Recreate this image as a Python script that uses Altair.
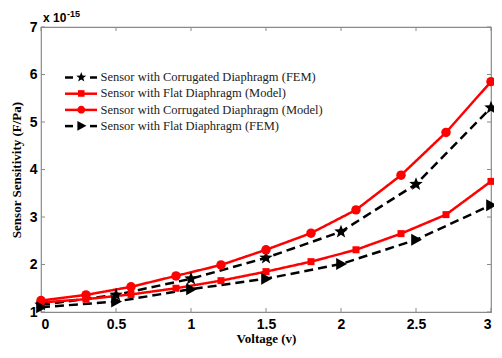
import math
import altair as alt
import pandas as pd

# ---------------- data ----------------
S1 = "Sensor with Corrugated Diaphragm (FEM)"
S2 = "Sensor with Flat Diaphragm (Model)"
S3 = "Sensor with Corrugated Diaphragm (Model)"
S4 = "Sensor with Flat Diaphragm (FEM)"
series_order = [S1, S2, S3, S4]

fem_x = [0, 0.5, 1, 1.5, 2, 2.5, 3]
corr_fem = [1.15, 1.36, 1.70, 2.14, 2.69, 3.69, 5.30]
flat_fem = [1.10, 1.22, 1.48, 1.70, 2.01, 2.52, 3.25]

model_x = [0, 0.3, 0.6, 0.9, 1.2, 1.5, 1.8, 2.1, 2.4, 2.7, 3.0]
corr_model = [1.24, 1.36, 1.53, 1.76, 1.99, 2.31, 2.66, 3.15, 3.88, 4.78, 5.85]
flat_model = [1.20, 1.27, 1.37, 1.50, 1.66, 1.85, 2.06, 2.31, 2.65, 3.05, 3.75]

x_ticks = [0, 0.5, 1, 1.5, 2, 2.5, 3]
y_ticks = [1, 2, 3, 4, 5, 6, 7]

rows = []
for s, xs_, ys_ in [(S1, fem_x, corr_fem), (S2, model_x, flat_model),
                    (S3, model_x, corr_model), (S4, fem_x, flat_fem)]:
    for xv, yv in zip(xs_, ys_):
        rows.append({"series": s, "v": xv, "s": yv})
df = pd.DataFrame(rows)

# ---------------- styling ----------------
W, H = 450, 285
RED = "#ff0000"
BLK = "#000000"
FRAME = "#8a8a8a"


def star_path(R=1.0, ri=0.42):
    pts = []
    for k in range(10):
        a = math.radians(-90 + 36 * k)
        r = R if k % 2 == 0 else ri
        pts.append(f"{r * math.cos(a):.3f},{r * math.sin(a):.3f}")
    return "M" + "L".join(pts) + "Z"


STAR = star_path()
TRI = "M-0.8,-1L1,0L-0.8,1Z"

xs = alt.Scale(domain=[0, 3], nice=False)
ys = alt.Scale(domain=[1, 7], nice=False)
X = alt.X("v:Q", scale=xs, title="Voltage (v)",
          axis=alt.Axis(values=x_ticks, format="~g", ticks=False, grid=False, domain=False,
                        labelFont="Liberation Sans", labelFontWeight="bold", labelFontSize=14,
                        labelColor=BLK, labelPadding=5,
                        titleFont="Liberation Serif", titleFontWeight="bold", titleFontSize=13,
                        titleColor=BLK, titleBaseline="alphabetic", titleY=30))
Y = alt.Y("s:Q", scale=ys, title="Sensor Sensitivity (F/Pa)",
          axis=alt.Axis(values=y_ticks, format="~g", ticks=False, grid=False, domain=False,
                        labelFont="Liberation Sans", labelFontWeight="bold", labelFontSize=14,
                        labelColor=BLK, labelPadding=4,
                        titleFont="Liberation Serif", titleFontWeight="bold", titleFontSize=13,
                        titleColor=BLK, titlePadding=6))

color_scale = alt.Scale(domain=series_order, range=[BLK, RED, RED, BLK])

lines = alt.Chart(df).mark_line(strokeWidth=2.5).encode(
    x=X, y=Y,
    color=alt.Color("series:N", scale=color_scale, legend=None),
    strokeDash=alt.StrokeDash("series:N", scale=alt.Scale(domain=series_order,
                              range=[[9, 5], [1, 0], [1, 0], [9, 5]]), legend=None),
)

# markers: one layer per series
marker_spec = {S1: (STAR, 200, BLK), S2: ("square", 49, RED), S3: ("circle", 90, RED), S4: (TRI, 144, BLK)}
point_layers = []
for s in series_order:
    shp, sz, col = marker_spec[s]
    point_layers.append(
        alt.Chart(df).transform_filter(alt.datum.series == s).mark_point(
            filled=True, shape=shp, size=sz, color=col, opacity=1
        ).encode(x=X, y=Y)
    )

# legend: one entry per legend (marker symbol), plus line swatches
LEG_STAR = star_path(0.95, 0.4)
LEG_SQ = "M-0.6,-0.6H0.6V0.6H-0.6Z"
LEG_CIR = "M-0.72,0A0.72,0.72,0,1,0,0.72,0A0.72,0.72,0,1,0,-0.72,0Z"
LEG_TRI = "M-0.7,-0.9L0.95,0L-0.7,0.9Z"
legend_spec = {S1: (LEG_STAR, BLK, True), S2: (LEG_SQ, RED, False),
               S3: (LEG_CIR, RED, False), S4: (LEG_TRI, BLK, True)}

LEG_X, LEG_Y0, LEG_DY = 34, 44, 16.2
legend_layers = []
swatch_layers = []
one = pd.DataFrame({"k": [0]})
for i, s in enumerate(series_order):
    path, col, dashed = legend_spec[s]
    leg = alt.Legend(orient="none", legendX=LEG_X, legendY=LEG_Y0 + LEG_DY * i, title=None, padding=0,
                     labelFont="Liberation Serif", labelFontSize=12.5, labelColor="#222222",
                     labelOffset=13, labelLimit=400, symbolStrokeWidth=0, symbolOpacity=1,
                     symbolSize=121, symbolFillColor=col, symbolStrokeColor=col)
    legend_layers.append(
        alt.Chart(df).transform_filter("false").mark_point(
            filled=False, size=121, fill=col, stroke=col, strokeWidth=0, fillOpacity=1
        ).encode(
            x=X, y=Y,
            shape=alt.Shape("series:N", scale=alt.Scale(domain=[s], range=[path]), legend=leg),
        )
    )
    yc = LEG_Y0 + 6.5 + LEG_DY * i
    segs = [(24, 32), (49, 56)] if dashed else [(24, 56)]
    for a, b in segs:
        swatch_layers.append(
            alt.Chart(one).mark_rule(color=col, strokeWidth=2.5).encode(
                x=alt.value(a), x2=alt.value(b), y=alt.value(yc))
        )

# inward ticks
xt = pd.DataFrame({"v": x_ticks})
yt = pd.DataFrame({"s": y_ticks})
tick_style = dict(color=FRAME, strokeWidth=1)
xt_bot = alt.Chart(xt).mark_rule(**tick_style).encode(x=alt.X("v:Q", scale=xs), y=alt.value(H), y2=alt.value(H - 4))
xt_top = alt.Chart(xt).mark_rule(**tick_style).encode(x=alt.X("v:Q", scale=xs), y=alt.value(0), y2=alt.value(4))
yt_l = alt.Chart(yt).mark_rule(**tick_style).encode(y=alt.Y("s:Q", scale=ys), x=alt.value(0), x2=alt.value(4))
yt_r = alt.Chart(yt).mark_rule(**tick_style).encode(y=alt.Y("s:Q", scale=ys), x=alt.value(W), x2=alt.value(W - 4))

exp_base = alt.Chart(pd.DataFrame({"t": ["x 10"]})).mark_text(
    align="left", baseline="alphabetic", font="Liberation Sans", fontWeight="bold",
    fontSize=12, color=BLK).encode(text="t:N", x=alt.value(2), y=alt.value(-5))
exp_sup = alt.Chart(pd.DataFrame({"t": ["-15"]})).mark_text(
    align="left", baseline="alphabetic", font="Liberation Sans", fontWeight="bold",
    fontSize=9, color=BLK).encode(text="t:N", x=alt.value(26), y=alt.value(-10))

chart = alt.layer(
    xt_bot, xt_top, yt_l, yt_r, lines, *point_layers, *swatch_layers, *legend_layers, exp_base, exp_sup
).resolve_scale(
    shape="independent"
).properties(
    width=W, height=H, autosize="none",
    padding={"left": 33, "top": 19, "right": 3, "bottom": 34},
    background="white",
).configure_view(stroke=FRAME, strokeWidth=1.2)

chart.save("out.html", embed_options={"renderer": "svg", "actions": False})
